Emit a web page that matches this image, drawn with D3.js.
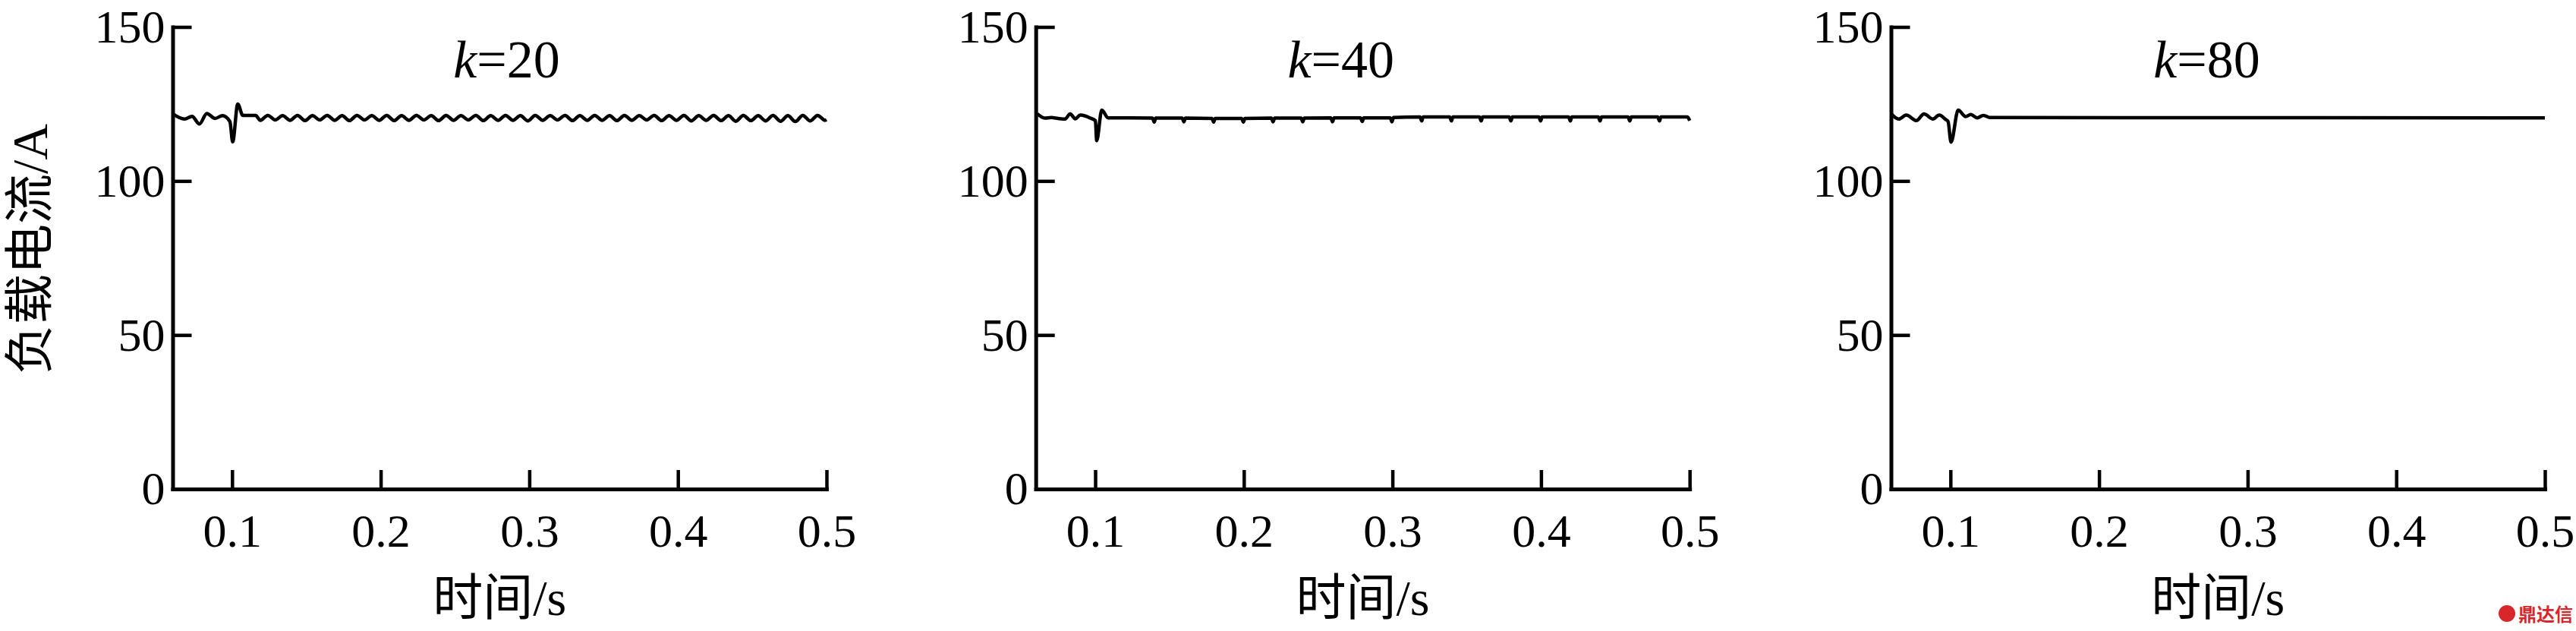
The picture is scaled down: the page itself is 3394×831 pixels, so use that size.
<!DOCTYPE html>
<html>
<head>
<meta charset="utf-8">
<script src="https://cdn.jsdelivr.net/npm/d3@7/dist/d3.min.js"></script>
<style>
  html, body { margin: 0; padding: 0; background: #fff; }
  svg { display: block; }
</style>
</head>
<body>
<svg id="chart" width="3394" height="831"></svg>
<script>
// ---------------- data ----------------
const kLabels = ["20", "40", "80"];
const xTicks = [0.1, 0.2, 0.3, 0.4, 0.5];
const yTicks = [0, 50, 100, 150];
const xTitle = "时间/s";
const yTitle = "负载电流/A";

// k = 20
const t20 = [0.060, 0.068, 0.073, 0.078, 0.083, 0.0885, 0.0935, 0.0985, 0.1004, 0.1038, 0.1072, 0.1158,
  0.119, 0.124, 0.129, 0.134, 0.139, 0.144, 0.149, 0.154, 0.159, 0.164, 0.169, 0.174, 0.179, 0.184, 0.189, 0.194,
  0.199, 0.204, 0.209, 0.214, 0.219, 0.224, 0.229, 0.234, 0.239, 0.244, 0.249, 0.254, 0.259, 0.264, 0.269, 0.274,
  0.279, 0.284, 0.289, 0.294, 0.299, 0.304, 0.309, 0.314, 0.319, 0.324, 0.329, 0.334, 0.339, 0.344, 0.349, 0.354,
  0.359, 0.364, 0.369, 0.374, 0.379, 0.384, 0.389, 0.394, 0.399, 0.404, 0.409, 0.414, 0.419, 0.424, 0.429, 0.434,
  0.439, 0.444, 0.449, 0.454, 0.459, 0.464, 0.469, 0.474, 0.479, 0.484, 0.489, 0.494, 0.499, 0.500];
const v20 = [121.8, 120.1, 121.0, 118.5, 121.9, 120.3, 121.2, 119.3, 112.7, 125.0, 121.3, 121.3,
  119.7, 121.3, 119.8, 121.2, 119.7, 121.3, 119.6, 121.2, 119.8, 121.3, 119.7, 121.2, 119.6, 121.3, 119.8, 121.2,
  119.7, 121.3, 119.6, 121.2, 119.7, 121.3, 119.8, 121.2, 119.6, 121.3, 119.7, 121.2, 119.8, 121.3, 119.6, 121.2,
  119.7, 121.3, 119.7, 121.2, 119.5, 121.3, 119.7, 121.2, 119.8, 121.3, 119.6, 121.2, 119.7, 121.3, 119.7, 121.2,
  119.6, 121.3, 119.7, 121.2, 119.8, 121.3, 119.6, 121.2, 119.7, 121.3, 119.5, 121.2, 119.7, 121.3, 119.6, 121.2,
  119.4, 121.3, 119.6, 121.2, 119.5, 121.3, 119.4, 121.2, 119.3, 121.3, 119.5, 121.3, 119.7, 119.9];

// k = 40
const t40 = [0.061, 0.0661, 0.0704, 0.075, 0.0797, 0.0831, 0.0866, 0.0899, 0.0933, 0.0968, 0.1001, 0.1010, 0.1044, 0.1087,
  0.1385, 0.1397, 0.1407, 0.1585, 0.1597, 0.1607, 0.1785, 0.1797, 0.1807, 0.1985, 0.1997, 0.2007,
  0.2185, 0.2197, 0.2207, 0.2385, 0.2397, 0.2407, 0.2585, 0.2597, 0.2607, 0.2785, 0.2797, 0.2807,
  0.2985, 0.2997, 0.3007, 0.3185, 0.3197, 0.3207, 0.3385, 0.3397, 0.3407, 0.3585, 0.3597, 0.3607,
  0.3785, 0.3797, 0.3807, 0.3985, 0.3997, 0.4007, 0.4185, 0.4197, 0.4207, 0.4385, 0.4397, 0.4407,
  0.4585, 0.4597, 0.4607, 0.4785, 0.4797, 0.4807, 0.4985, 0.5000];
const v40 = [121.8, 120.4, 120.6, 120.3, 120.1, 121.8, 120.2, 121.4, 121.1, 120.4, 119.6, 113.1, 123.0, 120.5,
  120.4, 119.1, 120.4, 120.4, 119.2, 120.4, 120.3, 119.1, 120.3, 120.3, 119.1, 120.3,
  120.4, 119.2, 120.4, 120.4, 119.2, 120.4, 120.5, 119.2, 120.5, 120.5, 119.3, 120.5,
  120.5, 119.2, 120.6, 120.8, 119.5, 120.8, 120.8, 119.5, 120.8, 120.8, 119.5, 120.8,
  120.8, 119.5, 120.8, 120.8, 119.5, 120.8, 120.8, 119.5, 120.8, 120.8, 119.5, 120.8,
  120.8, 119.5, 120.8, 120.8, 119.5, 120.8, 120.8, 119.6];

// k = 80
const t80 = [0.0601, 0.0652, 0.0703, 0.0771, 0.0822, 0.0882, 0.0924, 0.0967, 0.0984, 0.1004, 0.1052, 0.1103,
  0.1137, 0.1180, 0.1222, 0.1265, 0.5000];
const v80 = [121.8, 120.1, 121.4, 119.6, 121.8, 120.1, 121.4, 120.0, 119.3, 112.6, 123.0, 120.9,
  121.6, 120.5, 121.3, 120.6, 120.5];

const series = [
  { k: kLabels[0], t: t20, v: v20 },
  { k: kLabels[1], t: t40, v: v40 },
  { k: kLabels[2], t: t80, v: v80 }
];

// ---------------- layout ----------------
const svg = d3.select("#chart");
svg.append("rect").attr("width", 3394).attr("height", 831).attr("fill", "#fff");

const panelLeft = [227.5, 1364.7, 2491.5];
const panelW = 861.5;
const plotTop = 35.5, plotBottom = 644;
const titleOffset = [440, 402, 416];
const serif = "'Liberation Serif', 'Times New Roman', 'Noto Sans CJK SC', serif";
const fsTick = 62, fsTitle = 70, fsAxis = 66;

series.forEach((s, i) => {
  const g = svg.append("g").attr("transform", `translate(${panelLeft[i]},0)`);
  const x = d3.scaleLinear().domain([0.06, 0.5]).range([0, panelW]);
  const y = d3.scaleLinear().domain([0, 150]).range([plotBottom, plotTop]);

  // line
  const pts = s.t.map((t, j) => [t, s.v[j]]);
  g.append("path")
    .datum(pts)
    .attr("fill", "none")
    .attr("stroke", "#000")
    .attr("stroke-width", 4.5)
    .attr("stroke-linejoin", "round")
    .attr("d", d3.line().x(d => x(d[0])).y(d => y(d[1])).curve(d3.curveMonotoneX));

  // y axis
  const ya = g.append("g")
    .call(d3.axisLeft(y).tickValues(yTicks).tickFormat(d3.format("d"))
      .tickSizeInner(-25).tickSizeOuter(0).tickPadding(10));
  // x axis
  const xa = g.append("g").attr("transform", `translate(0,${plotBottom})`)
    .call(d3.axisBottom(x).tickValues(xTicks).tickFormat(d3.format(".1f"))
      .tickSizeInner(-25).tickSizeOuter(0).tickPadding(32));

  [ya, xa].forEach(a => {
    a.selectAll(".domain").attr("stroke", "#000").attr("stroke-width", 5).attr("stroke-linecap", "square");
    a.selectAll(".tick line").attr("stroke", "#000").attr("stroke-width", 4.5);
    a.selectAll(".tick text").attr("fill", "#000")
      .style("font-family", serif).style("font-size", fsTick + "px");
  });

  // panel title k=..
  const tt = g.append("text")
    .attr("x", titleOffset[i]).attr("y", 102)
    .attr("text-anchor", "middle")
    .style("font-family", serif).style("font-size", fsTitle + "px").attr("fill", "#000");
  tt.append("tspan").style("font-style", "italic").text("k");
  tt.append("tspan").text("=" + s.k);

  // x title
  g.append("text")
    .attr("x", panelW / 2).attr("y", 810)
    .attr("text-anchor", "middle")
    .style("font-family", serif).style("font-size", fsAxis + "px").attr("fill", "#000")
    .text(xTitle);
});

// y title (first panel only)
svg.append("text")
  .attr("transform", "translate(62,328) rotate(-90)")
  .attr("text-anchor", "middle")
  .style("font-family", serif).style("font-size", fsAxis + "px").attr("fill", "#000")
  .text(yTitle);

// watermark
const wm = svg.append("g").attr("transform", "translate(3292,797)");
wm.append("circle").attr("cx", 11).attr("cy", 11).attr("r", 11).attr("fill", "#d9262b");
wm.append("text").attr("x", 26).attr("y", 21)
  .style("font-family", "'Noto Sans CJK SC', sans-serif").style("font-weight", "bold")
  .style("font-size", "24px").attr("fill", "#d9262b").text("鼎达信");
</script>
</body>
</html>
